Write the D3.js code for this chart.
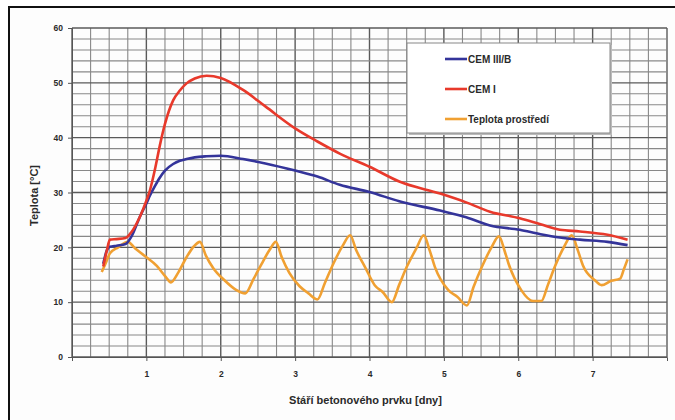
<!DOCTYPE html>
<html>
<head>
<meta charset="utf-8">
<script src="https://cdn.jsdelivr.net/npm/d3@7"></script>
<style>
  body { margin: 0; background: #fff; }
  text { font-family: "Liberation Sans", Arial, sans-serif; font-weight: bold; fill: #2a2a2a; }
</style>
</head>
<body>
<script>
'use strict';

var width = 675;
var height = 420;

// CEM curves share one time base (days)
var cemDays = [0.42, 0.47, 0.51, 0.60, 0.72, 0.80, 0.91, 1.00, 1.05, 1.12, 1.18, 1.25, 1.36, 1.45, 1.54, 1.65, 1.81, 2.00,
  2.30, 2.60, 3.00, 3.30, 3.60, 4.00, 4.40, 4.95, 5.30, 5.62, 6.02, 6.30, 6.56, 6.83, 7.20, 7.47];
var cem3b = [17.0, 19.5, 20.1, 20.3, 20.6, 22.0, 25.5, 28.0, 29.5, 31.3, 32.7, 34.0, 35.2, 35.8, 36.1, 36.4, 36.6, 36.7,
  36.1, 35.3, 34.0, 32.9, 31.4, 30.1, 28.4, 26.7, 25.5, 24.0, 23.2, 22.4, 21.8, 21.4, 21.0, 20.4];
var cem1 = [16.5, 19.5, 21.4, 21.5, 21.7, 22.8, 25.5, 28.5, 30.5, 34.5, 38.5, 42.5, 46.8, 48.6, 49.9, 50.8, 51.3, 50.9,
  48.7, 45.7, 41.7, 39.3, 37.1, 34.7, 32.0, 29.8, 28.2, 26.5, 25.3, 24.2, 23.2, 22.9, 22.3, 21.4];

// ambient temperature
var ambDays = [0.40, 0.45, 0.51, 0.62, 0.75, 0.85, 0.97, 1.14, 1.26, 1.33, 1.42, 1.54, 1.64, 1.72, 1.80, 1.90, 2.05, 2.20, 2.33,
  2.44, 2.55, 2.66, 2.74, 2.82, 2.92, 3.06, 3.18, 3.30, 3.40, 3.52, 3.64, 3.74, 3.82, 3.94, 4.07, 4.18, 4.30,
  4.40, 4.50, 4.63, 4.73, 4.81, 4.88, 5.06, 5.18, 5.31, 5.40, 5.51, 5.64, 5.74, 5.82, 5.87, 6.04, 6.20, 6.31,
  6.40, 6.49, 6.62, 6.72, 6.80, 6.87, 7.03, 7.12, 7.25, 7.37, 7.42, 7.47];
var ambTemp = [15.5, 17.0, 18.9, 20.0, 21.0, 19.8, 18.5, 16.6, 14.6, 13.6, 15.2, 18.2, 20.2, 21.0, 18.5, 16.2, 14.0, 12.3, 11.6,
  14.2, 17.0, 19.6, 21.0, 18.2, 15.4, 12.9, 11.6, 10.5, 13.5, 17.2, 20.3, 22.2, 19.5, 16.4, 13.1, 11.8, 10.0,
  13.2, 16.4, 19.8, 22.2, 19.4, 16.4, 12.2, 11.0, 9.4, 12.8, 16.4, 20.0, 22.0, 19.2, 17.0, 12.2, 10.2, 10.2,
  13.2, 16.4, 20.2, 22.2, 19.5, 16.7, 14.0, 13.1, 13.9, 14.3, 16.0, 17.8];

var xTicks = [1, 2, 3, 4, 5, 6, 7];
var yTicks = [0, 10, 20, 30, 40, 50, 60];

var seriesNames = ['CEM III/B', 'CEM I', 'Teplota prostředí'];
var seriesColors = ['#34349a', '#e8392b', '#f0a032'];

var margin = { left: 72, right: 8, top: 28, bottom: 63 };

var svg = d3.select('body').append('svg').attr('width', width).attr('height', height);

// outer frame
svg.append('rect').attr('x', 9).attr('y', 7).attr('width', width).attr('height', height)
  .attr('fill', '#fdfdfd').attr('stroke', '#111').attr('stroke-width', 2);

var x = d3.scaleLinear().domain([0, 8]).range([margin.left, width - margin.right]);
var y = d3.scaleLinear().domain([0, 60]).range([height - margin.bottom, margin.top]);

var grid = svg.append('g');
grid.selectAll('.vx').data(d3.range(0, 8.001, 0.25)).enter().append('line')
  .attr('x1', function (d) { return x(d); }).attr('x2', function (d) { return x(d); })
  .attr('y1', y(0)).attr('y2', y(60))
  .attr('stroke', function (d) { return d % 1 === 0 ? '#5a5a5a' : '#888'; })
  .attr('stroke-width', function (d) { return d % 1 === 0 ? 1.4 : 1.1; });
grid.selectAll('.hy').data(d3.range(0, 60.001, 2)).enter().append('line')
  .attr('x1', x(0)).attr('x2', x(8))
  .attr('y1', function (d) { return y(d); }).attr('y2', function (d) { return y(d); })
  .attr('stroke', function (d) { return d % 10 === 0 ? '#5a5a5a' : '#888'; })
  .attr('stroke-width', function (d) { return d % 10 === 0 ? 1.4 : 1.1; });

// axes
var yAxis = svg.append('g').attr('transform', 'translate(' + x(0) + ',0)')
  .call(d3.axisLeft(y).tickValues(yTicks).tickSize(4).tickPadding(5));
var xAxis = svg.append('g').attr('transform', 'translate(0,' + y(0) + ')')
  .call(d3.axisBottom(x).tickValues(xTicks).tickSize(4).tickPadding(10));
[xAxis, yAxis].forEach(function (a) {
  a.select('.domain').attr('stroke', '#555');
  a.selectAll('.tick line').attr('stroke', '#555');
  a.selectAll('.tick text').attr('font-size', 8.5).attr('fill', '#333')
    .style('font-family', '"Liberation Sans", Arial, sans-serif').style('font-weight', 'bold');
});

svg.append('text').attr('x', (x(0) + x(8)) / 2 - 4).attr('y', 404).attr('text-anchor', 'middle')
  .attr('font-size', 11).text('Stáří betonového prvku [dny]');
svg.append('text').attr('transform', 'translate(38,' + (y(30) + 3) + ') rotate(-90)').attr('text-anchor', 'middle')
  .attr('font-size', 11).text('Teplota [°C]');

// lines
var line = d3.line().x(function (d) { return x(d[0]); }).y(function (d) { return y(d[1]); }).curve(d3.curveMonotoneX);

var series = [
  d3.zip(cemDays, cem3b),
  d3.zip(cemDays, cem1),
  d3.zip(ambDays, ambTemp)
];
// ambient first, then CEM curves on top
[2, 0, 1].forEach(function (i) {
  svg.append('path').datum(series[i]).attr('d', line)
    .attr('fill', 'none').attr('stroke', seriesColors[i]).attr('stroke-width', 2.6)
    .attr('stroke-linejoin', 'round');
});

// legend
var lg = svg.append('g').attr('transform', 'translate(407,43)');
lg.append('rect').attr('x', 2).attr('y', 2).attr('width', 203).attr('height', 90).attr('fill', '#bbb');
lg.append('rect').attr('width', 203).attr('height', 90).attr('fill', '#fff').attr('stroke', '#888');
seriesNames.forEach(function (n, i) {
  var yy = 16 + i * 30;
  lg.append('line').attr('x1', 38).attr('x2', 60).attr('y1', yy).attr('y2', yy)
    .attr('stroke', seriesColors[i]).attr('stroke-width', 2.6);
  lg.append('text').attr('x', 61).attr('y', yy + 3.5).attr('font-size', 10).text(n);
});
</script>
</body>
</html>
